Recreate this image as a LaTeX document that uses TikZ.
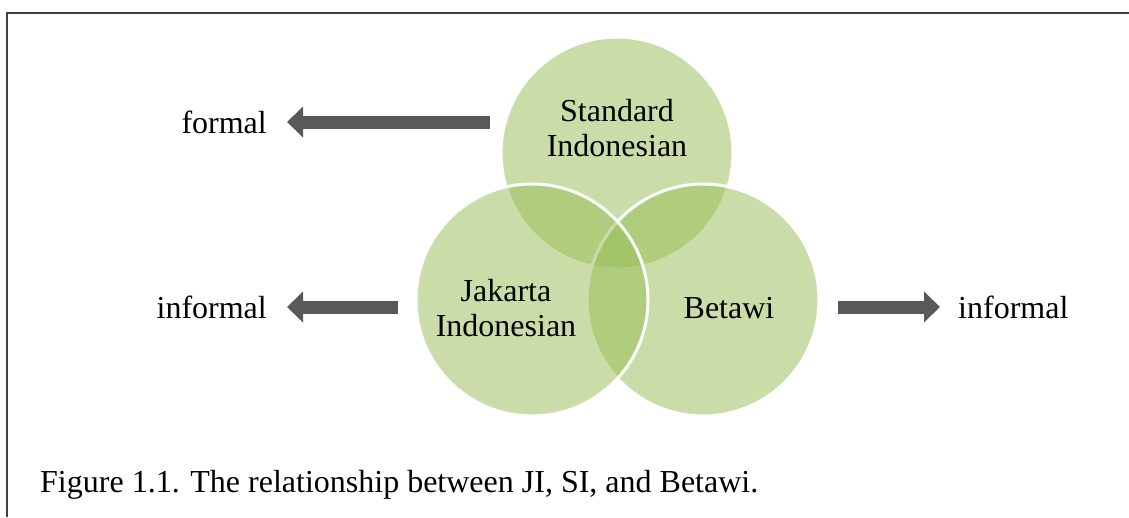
\documentclass[tikz,border=0pt]{standalone}
\usepackage{fontspec}
\setmainfont{Liberation Serif}
\usetikzlibrary{arrows.meta}
\definecolor{venngreen}{RGB}{150,188,84}
\definecolor{arrowgray}{RGB}{89,89,89}
\definecolor{framegray}{RGB}{64,64,64}
\tikzset{
  venn/.style={circle,minimum size=232pt,inner sep=0pt,
    fill=venngreen,fill opacity=0.5,draw=white,line width=3pt}}
\tikzset{
  vtext/.style={align=center,inner sep=0pt,font=\fontsize{32}{35}\selectfont}}
\tikzset{
  side/.style={inner sep=0pt,font=\fontsize{32}{35}\selectfont}}
\tikzset{
  bigarrow/.style={draw=arrowgray,line width=13pt,
    -{Triangle[length=16pt,width=30pt]}}}

\begin{document}
\begin{tikzpicture}[x=1pt,y=-1pt]
    \useasboundingbox (0,0) rectangle (1129,517);
    \draw[framegray,line width=1.5pt] (7,517) -- (7,13) -- (1129,13);
    % the three circles
    \node[venn] (si) at (617,153) {};
    \node[venn] (bt) at (703,300) {};
    \node[venn] (ji) at (532,300) {};
    \node[vtext] (silabel) at (617,128) {Standard\\Indonesian};
    \node[vtext] (jilabel) at (506,308) {Jakarta\\Indonesian};
    \node[vtext] (btlabel) at (729,308) {Betawi};
    % registers
    \node[side,anchor=east] (formal) at (267,122) {formal};
    \node[side,anchor=east] (infl) at (267,307) {informal};
    \node[side,anchor=west] (infr) at (958,307) {informal};
    \draw[bigarrow,shorten <=10pt,shorten >=20pt] (si.west |- formal.east) -- (formal.east);
    \draw[bigarrow,shorten <=17pt,shorten >=20pt] (ji.west |- infl.east) -- (infl.east);
    \draw[bigarrow,shorten <=17pt,shorten >=18pt] (bt.east |- infr.west) -- (infr.west);
    \node[side,anchor=base west] (caption) at (40,492)
        {Figure 1.1. The relationship between JI, SI, and Betawi.};
\end{tikzpicture}
\end{document}
